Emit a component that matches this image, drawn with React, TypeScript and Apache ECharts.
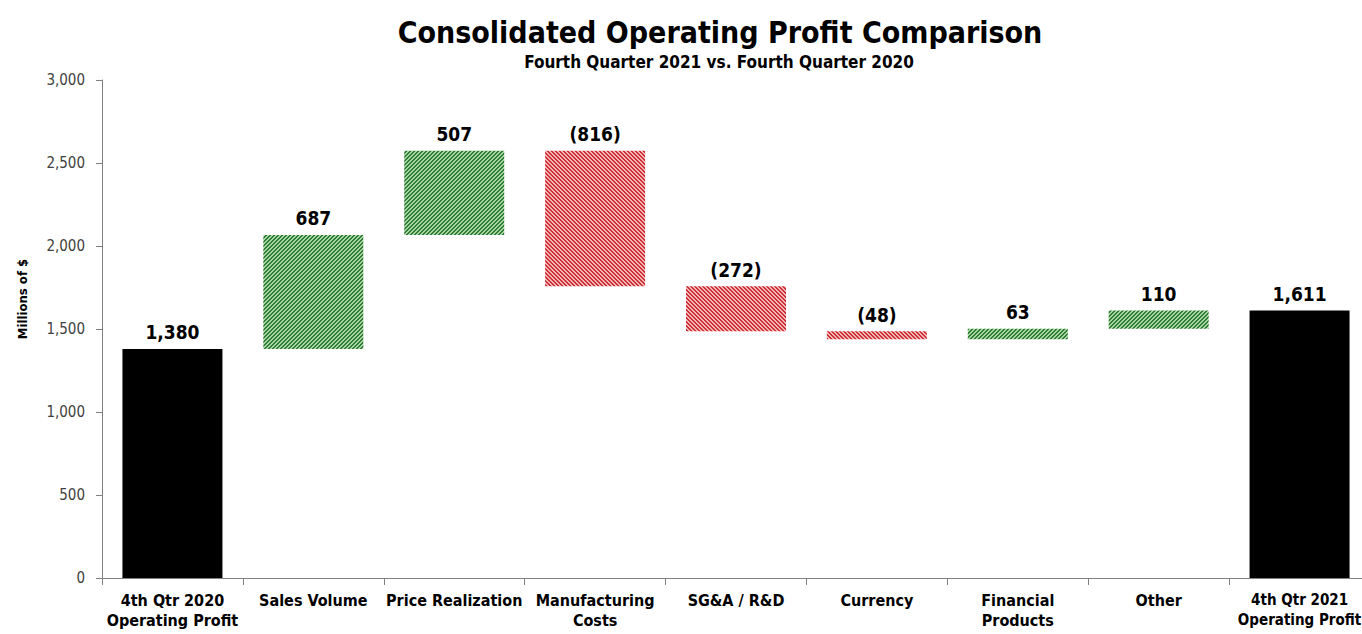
import React, { useEffect, useRef } from "react";
import * as echarts from "echarts";

const categories = [
  "4th Qtr 2020\nOperating Profit",
  "Sales Volume",
  "Price Realization",
  "Manufacturing\nCosts",
  "SG&A / R&D",
  "Currency",
  "Financial\nProducts",
  "Other",
  "4th Qtr 2021\nOperating Profit",
];
const startValue = 1380;
const deltas = [687, 507, -816, -272, -48, 63, 110];
const endValue = 1611;

const titleText = "Consolidated Operating Profit Comparison";
const subtitleText = "Fourth Quarter 2021 vs. Fourth Quarter 2020";
const yAxisName = "Millions of $";

const FONT = "'Liberation Sans Narrow', 'Arial Narrow', 'DejaVu Sans Condensed', sans-serif";

function makePattern(dark: string, light: string, up: boolean) {
  const size = 4;
  const c = document.createElement("canvas");
  c.width = size;
  c.height = size;
  const ctx = c.getContext("2d")!;
  ctx.fillStyle = light;
  ctx.fillRect(0, 0, size, size);
  ctx.fillStyle = dark;
  for (let x = 0; x < size; x++) {
    for (let y = 0; y < size; y++) {
      const k = up ? (x + y) % size : (((x - y) % size) + size) % size;
      if (k < 2) ctx.fillRect(x, y, 1, 1);
    }
  }
  return { image: c, repeat: "repeat" } as any;
}

const fmt = (v: number) => v.toLocaleString("en-US");

export default function App() {
  const ref = useRef<HTMLDivElement>(null);
  useEffect(() => {
    if (!ref.current) return;
    const chart = echarts.init(ref.current, undefined, { renderer: "svg" });

    const green = makePattern("#2f7d32", "#a8d5a5", true);
    const red = makePattern("#cc2f36", "#f5b5b5", false);

    const baseData: any[] = [0];
    const valueData: any[] = [];
    const labels: string[] = [fmt(startValue)];
    valueData.push({ value: startValue, itemStyle: { color: "#000" } });
    let running = startValue;
    deltas.forEach((d) => {
      baseData.push(d >= 0 ? running : running + d);
      valueData.push({
        value: Math.abs(d),
        itemStyle: { color: d >= 0 ? green : red },
      });
      labels.push(d >= 0 ? fmt(d) : "(" + fmt(-d) + ")");
      running += d;
    });
    baseData.push(0);
    valueData.push({ value: endValue, itemStyle: { color: "#000" } });
    labels.push(fmt(endValue));

    chart.setOption({
      animation: false,
      backgroundColor: "#fff",
      grid: { left: 102, right: 0, top: 80, bottom: 56, containLabel: false },
      graphic: [
        {
          type: "text",
          x: 720,
          y: 32,
          style: {
            text: titleText,
            font: `bold 30px ${FONT}`,
            fill: "#000",
            textAlign: "center",
            textVerticalAlign: "middle",
          },
        },
        {
          type: "text",
          x: 719,
          y: 62,
          style: {
            text: subtitleText,
            font: `bold 17px ${FONT}`,
            fill: "#000",
            textAlign: "center",
            textVerticalAlign: "middle",
          },
        },
        {
          type: "text",
          x: 22,
          y: 299,
          rotation: Math.PI / 2,
          style: {
            text: yAxisName,
            font: `bold 13px ${FONT}`,
            fill: "#000",
            textAlign: "center",
            textVerticalAlign: "middle",
          },
        },
      ],
      xAxis: {
        type: "category",
        data: categories,
        axisLine: { lineStyle: { color: "#808080", width: 1 } },
        axisTick: { show: true, length: 7, lineStyle: { color: "#808080" } },
        axisLabel: {
          fontFamily: FONT,
          fontWeight: "bold",
          fontSize: 16,
          color: "#000",
          lineHeight: 20,
          margin: 12,
          interval: 0,
          formatter: (v: string, i: number) =>
            i === categories.length - 1
              ? v
                  .split("\n")
                  .map((l) => `{s|${l}}`)
                  .join("\n")
              : v,
          rich: {
            s: {
              fontFamily: FONT,
              fontWeight: "bold",
              fontSize: 15,
              color: "#000",
              lineHeight: 20,
            },
          },
        },
      },
      yAxis: {
        type: "value",
        min: 0,
        max: 3000,
        interval: 500,
        splitLine: { show: false },
        axisLine: { show: true, lineStyle: { color: "#808080", width: 1 } },
        axisTick: { show: true, length: 6, lineStyle: { color: "#808080" } },
        axisLabel: {
          fontFamily: FONT,
          fontSize: 15,
          color: "#404040",
          margin: 17,
          formatter: (v: number) => fmt(v),
        },
      },
      series: [
        {
          type: "bar",
          stack: "w",
          data: baseData,
          itemStyle: { color: "transparent" },
          emphasis: { disabled: true },
          silent: true,
          barWidth: 100,
        },
        {
          type: "bar",
          stack: "w",
          data: valueData,
          barWidth: 100,
          label: {
            show: true,
            position: "top",
            distance: 7,
            fontFamily: FONT,
            fontWeight: "bold",
            fontSize: 19,
            color: "#000",
            formatter: (p: any) => labels[p.dataIndex],
          },
        },
      ],
    });
    return () => chart.dispose();
  }, []);
  return (
    <div style={{ position: "fixed", left: 0, top: 0, width: 1362, height: 634, overflow: "hidden", background: "#fff" }}>
      <div ref={ref} style={{ width: 1370, height: 634 }} />
    </div>
  );
}
